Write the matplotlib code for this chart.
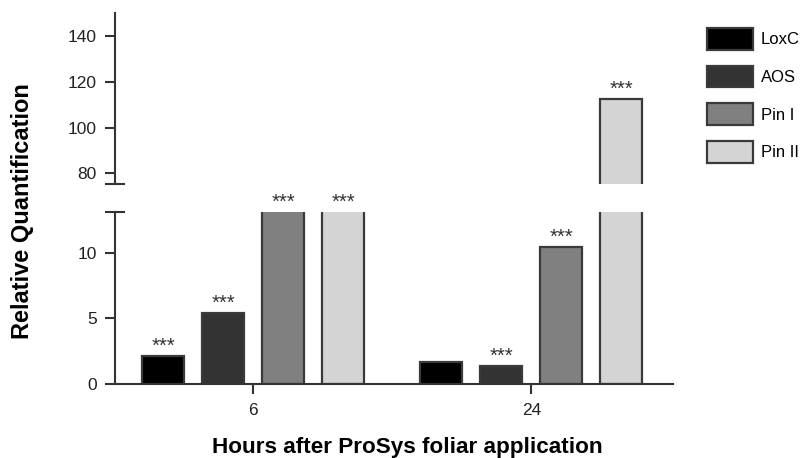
import numpy as np
import matplotlib
matplotlib.use('Agg')
import matplotlib.pyplot as plt
from matplotlib.patches import Patch

plt.rcParams['font.family'] = ['Liberation Sans', 'DejaVu Sans']

# Relative expression after ProSys foliar application
hours = ['6', '24']
genes = ['LoxC', 'AOS', 'Pin I', 'Pin II']
loxc = [2.17, 1.66]
aos = [5.41, 1.38]
pin1 = [35.0, 10.43]
pin2 = [48.0, 112.4]
signif = [[True, False], [True, True], [True, True], [True, True]]

colors = ['#000000', '#333333', '#808080', '#d4d4d4']
edge = '#3a3a3a'

series = [loxc, aos, pin1, pin2]
x = np.arange(len(hours))
pitch = 0.216
width = 0.151

fig = plt.figure(figsize=(8.06, 4.58), dpi=100)
ax_lo = fig.add_axes([0.1427, 0.1616, 0.6927, 0.3749])
ax_hi = fig.add_axes([0.1427, 0.5989, 0.6927, 0.3722])

lo_lim = (0, 13.1)
hi_lim = (75.5, 150)

for ax, lim in ((ax_lo, lo_lim), (ax_hi, hi_lim)):
    for i, vals in enumerate(series):
        pos = x + (i - 1.5) * pitch
        ax.bar(pos, vals, width, color=colors[i], edgecolor=edge, linewidth=1.6,
               label=genes[i])
        for p, v, s in zip(pos, vals, signif[i]):
            if not s:
                continue
            # put the stars on whichever segment shows the top of the bar
            if lim[0] <= v <= lim[1] or (ax is ax_lo and v > lim[1] and v < hi_lim[0]):
                ax.annotate('***', (p, min(v, lim[1])), xytext=(0, 3),
                            textcoords='offset points', ha='center', va='baseline',
                            fontsize=14.5, color='#333333', annotation_clip=False)
    ax.set_ylim(*lim)
    ax.set_xlim(-0.4975, 1.511)
    for side in ('top', 'right'):
        ax.spines[side].set_visible(False)
    ax.spines['left'].set_linewidth(1.5)
    ax.spines['left'].set_color('#333333')
    ax.tick_params(axis='y', direction='out', length=7, width=1.5, color='#333333',
                   labelsize=12.5, labelcolor='#222222', pad=6)

ax_lo.set_yticks([0, 5, 10])
ax_lo.set_xticks(x)
ax_lo.set_xticklabels(hours)
ax_lo.spines['bottom'].set_linewidth(1.5)
ax_lo.spines['bottom'].set_color('#333333')
ax_lo.tick_params(axis='x', direction='out', length=7, width=1.5, color='#333333',
                  labelsize=12.5, labelcolor='#222222', pad=7)

ax_hi.set_yticks([80, 100, 120, 140])
ax_hi.spines['bottom'].set_visible(False)
ax_hi.set_xticks([])

# caps on the broken y axis
cap = 0.016
ax_hi.plot([-cap, cap], [0, 0], transform=ax_hi.transAxes, color='#333333',
           lw=1.5, clip_on=False)
ax_lo.plot([-cap, cap], [1, 1], transform=ax_lo.transAxes, color='#333333',
           lw=1.5, clip_on=False)

fig.text(0.028, 0.54, 'Relative Quantification', rotation=90, ha='center',
         va='center', fontsize=17, fontweight='bold')
fig.text(0.5056, 0.011, 'Hours after ProSys foliar application', ha='center',
         va='baseline', fontsize=16.2, fontweight='bold')

handles = [Patch(facecolor=c, edgecolor=edge, linewidth=1.6) for c in colors]
fig.legend(handles, genes, loc='upper left', bbox_to_anchor=(0.869, 0.953),
           frameon=False, fontsize=12, handlelength=2.76, handleheight=1.62,
           labelspacing=0.96, handletextpad=0.48, borderaxespad=0)

fig.savefig('out.png', dpi=100)
